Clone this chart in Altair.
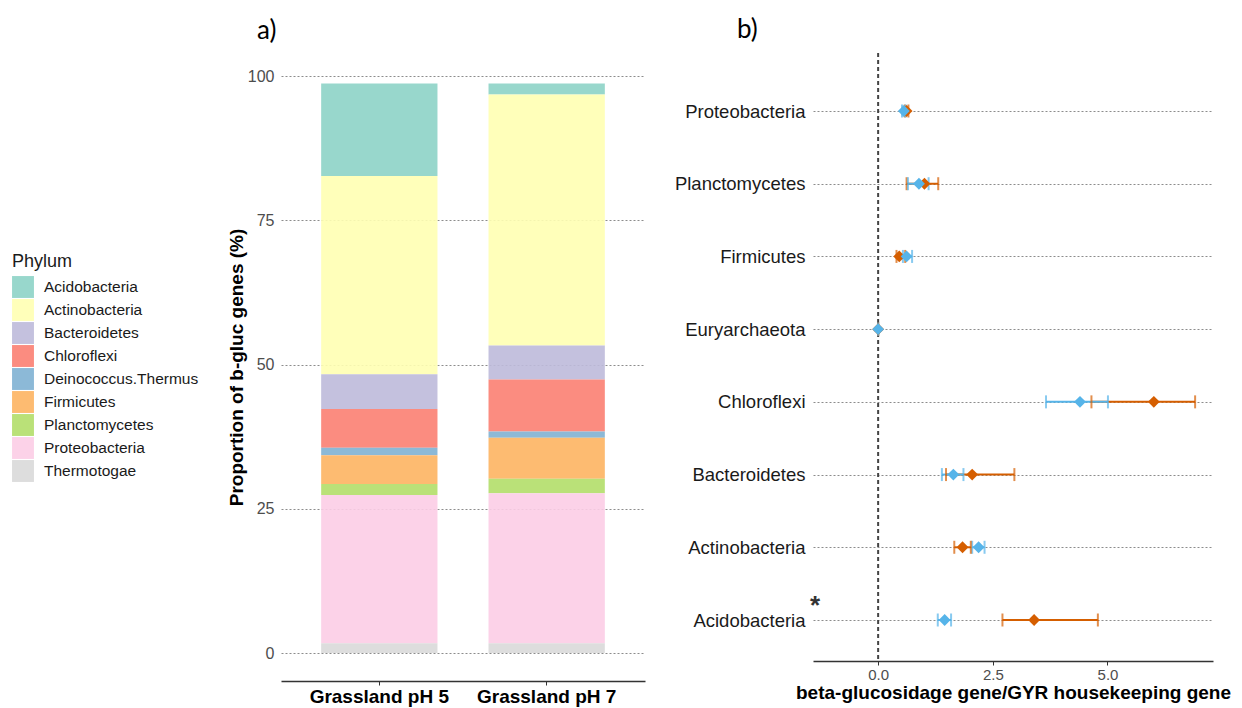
import altair as alt
import pandas as pd

FONT = "Liberation Sans"

# ---- panel a: share of beta-glucosidase genes per phylum (%) ----
phyla = ["Acidobacteria", "Actinobacteria", "Bacteroidetes", "Chloroflexi",
         "Deinococcus.Thermus", "Firmicutes", "Planctomycetes", "Proteobacteria",
         "Thermotogae"]
phylum_colors = ["#8DD3C7", "#FFFFB3", "#BEBADA", "#FB8072", "#80B1D3",
                 "#FDB462", "#B3DE69", "#FCCDE5", "#D9D9D9"]
sites = ["Grassland pH 5", "Grassland pH 7"]
share_ph5 = [16.0, 34.4, 6.0, 6.7, 1.3, 5.0, 1.9, 25.7, 1.7]
share_ph7 = [1.9, 43.5, 5.9, 9.0, 1.1, 7.1, 2.5, 26.0, 1.7]

# ---- panel b: gene ratio per phylum, mean with error range ----
taxa = ["Proteobacteria", "Planctomycetes", "Firmicutes", "Euryarchaeota",
        "Chloroflexi", "Bacteroidetes", "Actinobacteria", "Acidobacteria"]
ph5_mean = [0.62, 1.01, 0.46, 0.0, 6.01, 2.05, 1.84, 3.40]
ph5_lo = [0.58, 0.62, 0.40, 0.0, 4.65, 1.48, 1.66, 2.71]
ph5_hi = [0.66, 1.31, 0.59, 0.0, 6.91, 2.97, 2.02, 4.79]
ph7_mean = [0.56, 0.89, 0.62, 0.0, 4.40, 1.64, 2.19, 1.45]
ph7_lo = [0.52, 0.65, 0.54, 0.0, 3.66, 1.39, 2.05, 1.30]
ph7_hi = [0.60, 1.10, 0.74, 0.0, 5.01, 1.86, 2.32, 1.59]
series_names = ["pH 5", "pH 7"]
series_colors = ["#D55E00", "#56B4E9"]
x_ticks = [0.0, 2.5, 5.0]

# long table for the stacked bars; first phylum ends up on top of the stack
bar_rows = []
for site, shares in zip(sites, [share_ph5, share_ph7]):
    for i, (ph, v) in enumerate(zip(phyla, shares)):
        bar_rows.append({"site": site, "phylum": ph, "share": v,
                         "stack_rank": len(phyla) - 1 - i})
bars_df = pd.DataFrame(bar_rows)

bars = alt.Chart(bars_df).mark_bar(opacity=0.9).encode(
    x=alt.X("site:N", sort=sites,
            scale=alt.Scale(paddingInner=0.305, paddingOuter=0.24),
            axis=alt.Axis(title=None, labelAngle=0, labelFont=FONT,
                          labelFontSize=19, labelFontWeight="bold",
                          labelColor="black", ticks=True, tickSize=4,
                          tickColor="#333333", domainColor="#333333",
                          domainWidth=1.3, labelPadding=2, grid=False)),
    y=alt.Y("share:Q", stack="zero",
            scale=alt.Scale(domain=[-4.85, 104], nice=False, zero=False),
            axis=alt.Axis(title="Proportion of b-gluc genes (%)",
                          values=[0, 25, 50, 75, 100], titleFont=FONT,
                          titleFontSize=19, titleFontWeight="bold",
                          titleColor="black", titlePadding=1,
                          labelFont=FONT, labelFontSize=16,
                          labelColor="#4D4D4D", labelPadding=7,
                          ticks=False, domain=False, grid=True,
                          gridDash=[2, 2], gridColor="#8c8c8c",
                          gridWidth=1)),
    color=alt.Color("phylum:N",
                    scale=alt.Scale(domain=phyla, range=phylum_colors),
                    legend=alt.Legend(title="Phylum", orient="none",
                                      legendX=-269, legendY=200,
                                      titleFont=FONT, titleFontSize=18,
                                      titleFontWeight="normal",
                                      titleColor="#1a1a1a", titlePadding=5,
                                      labelFont=FONT, labelFontSize=15.5,
                                      labelColor="#1a1a1a", labelOffset=10,
                                      symbolType="square", symbolSize=480,
                                      symbolStrokeWidth=0,
                                      symbolOpacity=0.9, rowPadding=1)),
    order=alt.Order("stack_rank:Q", sort="ascending"),
).properties(
    width=364, height=628,
    title=alt.TitleParams("a)", anchor="start", frame="group", dx=-24,
                          font="Lato", fontSize=26, fontWeight="normal",
                          color="black", offset=9),
)

# long table for the dot / error-bar panel
pt_rows = []
for name, means, los, his in [("pH 5", ph5_mean, ph5_lo, ph5_hi),
                              ("pH 7", ph7_mean, ph7_lo, ph7_hi)]:
    for t, m, lo, hi in zip(taxa, means, los, his):
        pt_rows.append({"taxon": t, "series": name, "mean": m,
                        "lo": lo, "hi": hi})
pts_df = pd.DataFrame(pt_rows)

# panel b is 608 px tall; categories sit between 58 px and 567 px from its top
y_enc = alt.Y("taxon:N", sort=taxa,
              scale=alt.Scale(type="point", domain=taxa, padding=0,
                              range=[58, 567]),
              axis=alt.Axis(title=None, labelFont=FONT, labelFontSize=18.5,
                            labelColor="#1a1a1a", labelPadding=8,
                            ticks=False, domain=False, grid=True,
                            gridDash=[2, 2], gridColor="#8c8c8c",
                            gridWidth=1))
x_scale = alt.Scale(domain=[-1.42, 7.30], nice=False, zero=False)
x_axis = alt.Axis(title="beta-glucosidage gene/GYR housekeeping gene",
                  values=x_ticks, format=".1f", titleFont=FONT,
                  titleFontSize=19, titleFontWeight="bold",
                  titleColor="black", titlePadding=1, labelFont=FONT,
                  labelFontSize=15, labelColor="#4D4D4D", labelPadding=2,
                  tickSize=4, tickColor="#333333", domainColor="#333333",
                  domainWidth=1.3, grid=False)
col_enc = alt.Color("series:N",
                    scale=alt.Scale(domain=series_names,
                                    range=series_colors),
                    legend=None)

zero_line = alt.Chart(pd.DataFrame({"zero": [0.0]})).mark_rule(
    color="#444444", strokeWidth=2, strokeDash=[4, 3]
).encode(x=alt.X("zero:Q", scale=x_scale, axis=x_axis))

err_lines = alt.Chart(pts_df).mark_rule(strokeWidth=2).encode(
    x=alt.X("lo:Q", scale=x_scale, axis=x_axis), x2="hi:Q",
    y=y_enc, color=col_enc)

caps_lo = alt.Chart(pts_df).mark_tick(size=13, thickness=2).encode(
    x=alt.X("lo:Q", scale=x_scale, axis=x_axis), y=y_enc, color=col_enc)
caps_hi = alt.Chart(pts_df).mark_tick(size=13, thickness=2).encode(
    x=alt.X("hi:Q", scale=x_scale, axis=x_axis), y=y_enc, color=col_enc)

points = alt.Chart(pts_df).mark_point(
    shape="diamond", filled=True, size=140, opacity=1
).encode(x=alt.X("mean:Q", scale=x_scale, axis=x_axis), y=y_enc,
         color=col_enc)

star = alt.Chart(pd.DataFrame({"taxon": ["Acidobacteria"],
                               "mark": ["*"]})).mark_text(
    font=FONT, fontSize=26, fontWeight="bold", color="#333333",
    align="center", dy=-14
).encode(x=alt.value(2), y=y_enc, text="mark:N")

ratio_panel = alt.layer(
    zero_line, err_lines, caps_lo, caps_hi, points, star
).properties(
    width=400, height=608,
    title=alt.TitleParams("b)", anchor="start", frame="group", dx=-76,
                          font="Lato", fontSize=26, fontWeight="normal",
                          color="black", offset=9),
)

chart = alt.hconcat(bars, ratio_panel, spacing=29).resolve_scale(
    color="independent"
).properties(
    padding={"left": 12, "top": 17, "right": 5, "bottom": 2},
    background="white",
).configure_view(stroke=None)

chart.save("out.html", embed_options={"renderer": "svg", "actions": False})
